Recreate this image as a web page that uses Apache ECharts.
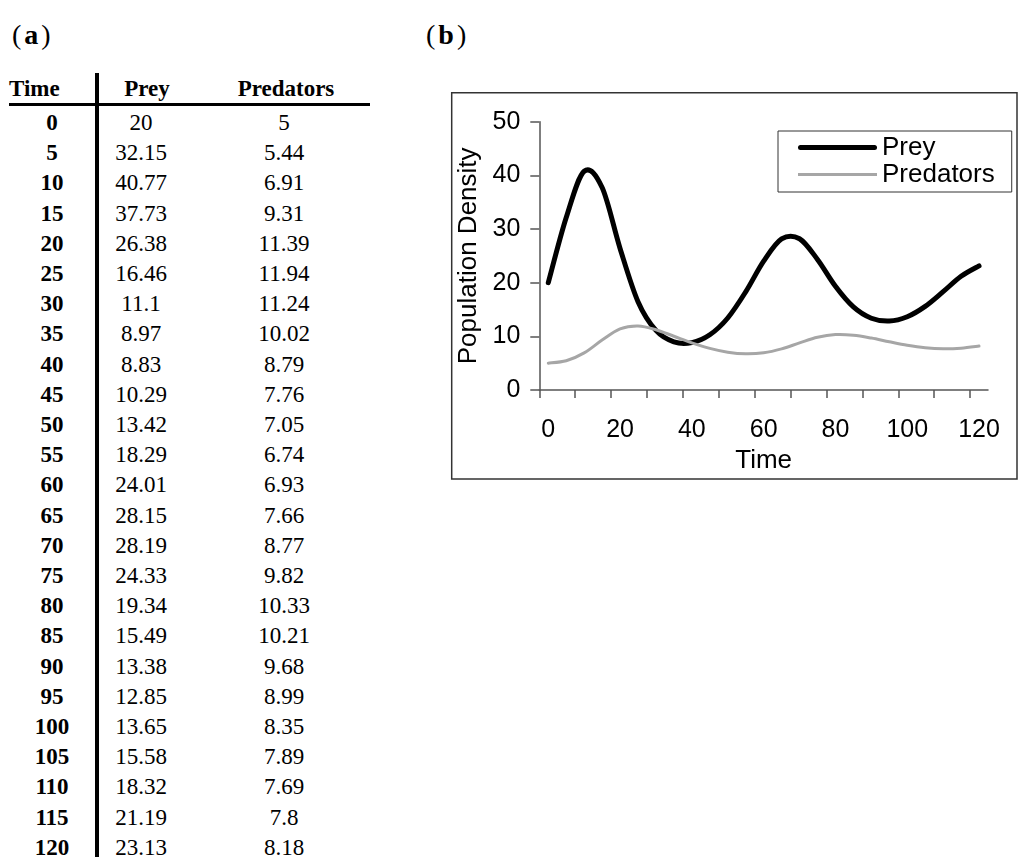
<!DOCTYPE html>
<html>
<head>
<meta charset="utf-8">
<script src="https://cdn.jsdelivr.net/npm/echarts@6/dist/echarts.min.js"></script>
<style>
  html, body { margin: 0; padding: 0; background: #fff; }
  body { width: 1019px; height: 857px; position: relative; overflow: hidden; font-family: "Liberation Serif", "Times New Roman", serif; color: #000; }
  .lbl { position: absolute; font-size: 28px; letter-spacing: 3px; line-height: 1; }
  .lbl b { font-weight: bold; }
  .cell { position: absolute; font-size: 23px; line-height: 30px; height: 30px; white-space: nowrap; transform: translate(-50%, -50%); }
  .hdr { font-weight: bold; }
  .bold { font-weight: bold; }
  #hline { position: absolute; left: 9px; top: 102.5px; width: 361px; height: 3px; background: #000; }
  #vline { position: absolute; left: 94.7px; top: 72.7px; width: 4px; height: 800px; background: #000; }
  #chart { position: absolute; left: 440px; top: 80px; width: 579px; height: 420px; }
</style>
</head>
<body>
<div class="lbl" style="left:12px; top:21px;">(<b>a</b>)</div>
<div class="lbl" style="left:426px; top:21px;">(<b>b</b>)</div>
<div id="hline"></div>
<div id="vline"></div>
<div id="table"></div>
<div id="chart"></div>
<script>
// ---- data ----
var times = [0, 5, 10, 15, 20, 25, 30, 35, 40, 45, 50, 55, 60, 65, 70, 75, 80, 85, 90, 95, 100, 105, 110, 115, 120];
var prey = [20, 32.15, 40.77, 37.73, 26.38, 16.46, 11.1, 8.97, 8.83, 10.29, 13.42, 18.29, 24.01, 28.15, 28.19, 24.33, 19.34, 15.49, 13.38, 12.85, 13.65, 15.58, 18.32, 21.19, 23.13];
var predators = [5, 5.44, 6.91, 9.31, 11.39, 11.94, 11.24, 10.02, 8.79, 7.76, 7.05, 6.74, 6.93, 7.66, 8.77, 9.82, 10.33, 10.21, 9.68, 8.99, 8.35, 7.89, 7.69, 7.8, 8.18];
var headers = ["Time", "Prey", "Predators"];
var seriesNames = ["Prey", "Predators"];
// x axis: time points sit in the middle of 5-unit bands (Excel category style)
var xRange = { min: -2.5, max: 122.5 };
var xLabelValues = [0, 20, 40, 60, 80, 100, 120];
var xTickValues = [-2.5, 7.5, 17.5, 27.5, 37.5, 47.5, 57.5, 67.5, 77.5, 87.5, 97.5, 107.5, 117.5];
var yTicks = { min: 0, max: 50, interval: 10 };

// ---- table (a) ----
(function () {
  var t = document.getElementById('table');
  function add(text, x, y, cls, left) {
    var d = document.createElement('div');
    d.className = 'cell ' + (cls || '');
    d.textContent = text;
    d.style.left = x + 'px';
    d.style.top = y + 'px';
    if (left) { d.style.transform = 'translate(0, -50%)'; }
    t.appendChild(d);
  }
  add(headers[0], 9, 89, 'hdr', true);
  add(headers[1], 147, 89, 'hdr');
  add(headers[2], 286, 89, 'hdr');
  for (var i = 0; i < times.length; i++) {
    var y = 123 + i * 30.2;
    add(String(times[i]), 52, y, 'bold');
    add(String(prey[i]), 141, y);
    add(String(predators[i]), 284, y);
  }
})();

// ---- chart (b) ----
var chart = echarts.init(document.getElementById('chart'), null, { renderer: 'canvas' });
var font = '"Liberation Sans", Arial, sans-serif';
var axisColor = '#555';
var preyColor = '#000';
var predColor = '#a6a6a6';

// Excel-style smoothed line: cubic Bezier through every data point (Catmull-Rom control points),
// positioned through the chart's own axes via api.coord.
function smoothLine(values, color, width) {
  return function (params, api) {
    if (params.dataIndex !== 0) { return null; }
    var pts = values.map(function (v, k) { return api.coord([times[k], v]); });
    var n = pts.length;
    var d = 'M' + pts[0][0] + ',' + pts[0][1];
    for (var i = 0; i < n - 1; i++) {
      var p0 = pts[Math.max(i - 1, 0)], p1 = pts[i], p2 = pts[i + 1], p3 = pts[Math.min(i + 2, n - 1)];
      var c1x = p1[0] + (p2[0] - p0[0]) / 6, c1y = p1[1] + (p2[1] - p0[1]) / 6;
      var c2x = p2[0] - (p3[0] - p1[0]) / 6, c2y = p2[1] - (p3[1] - p1[1]) / 6;
      d += ' C' + c1x + ',' + c1y + ' ' + c2x + ',' + c2y + ' ' + p2[0] + ',' + p2[1];
    }
    return {
      type: 'path',
      shape: { pathData: d },
      style: { fill: 'none', stroke: color, lineWidth: width, lineCap: 'round', lineJoin: 'round' }
    };
  };
}

chart.setOption({
  animation: false,
  backgroundColor: '#fff',
  textStyle: { fontFamily: font, color: '#000' },
  graphic: [{
    type: 'rect',
    shape: { x: 11.7, y: 12.7, width: 565.3, height: 386.3 },
    style: { fill: 'none', stroke: '#333', lineWidth: 1.5 },
    z: -1
  }],
  grid: { left: 99.3, top: 41.7, width: 448.7, height: 268.3, containLabel: false },
  legend: {
    orient: 'vertical',
    left: 338,
    top: 51,
    padding: [3, 17, 4, 20],
    itemGap: 0,
    itemWidth: 79,
    itemHeight: 14,
    borderColor: '#333',
    borderWidth: 1,
    backgroundColor: '#fff',
    textStyle: { fontFamily: font, fontSize: 26, lineHeight: 27, color: '#000' },
    data: [
      { name: seriesNames[0], icon: 'path://M2.5,0 h74 a2.5,2.5 0 0 1 0,5 h-74 a2.5,2.5 0 0 1 0,-5 z', itemStyle: { color: preyColor } },
      { name: seriesNames[1], icon: 'path://M0,0 h79 v3 h-79 z', itemStyle: { color: predColor } }
    ]
  },
  xAxis: {
    type: 'value',
    min: xRange.min,
    max: xRange.max,
    name: 'Time',
    nameLocation: 'middle',
    nameGap: 50,
    nameTextStyle: { fontFamily: font, fontSize: 26, color: '#000' },
    axisLine: { show: true, onZero: false, lineStyle: { color: axisColor, width: 1.5 } },
    axisTick: { show: true, customValues: xTickValues, length: 8, lineStyle: { color: axisColor, width: 1.5 } },
    axisLabel: { customValues: xLabelValues, margin: 28, fontFamily: font, fontSize: 25, color: '#000' },
    splitLine: { show: false }
  },
  yAxis: {
    type: 'value',
    min: yTicks.min,
    max: yTicks.max,
    interval: yTicks.interval,
    name: 'Population Density',
    nameLocation: 'middle',
    nameGap: 54,
    nameRotate: 90,
    nameTextStyle: { fontFamily: font, fontSize: 26, color: '#000' },
    axisLine: { show: true, onZero: false, lineStyle: { color: axisColor, width: 1.5 } },
    axisTick: { show: true, length: 9, lineStyle: { color: axisColor, width: 1.5 } },
    axisLabel: { margin: 19, fontFamily: font, fontSize: 25, color: '#000' },
    splitLine: { show: false }
  },
  series: [{
    name: seriesNames[0],
    type: 'custom',
    data: prey.map(function (v, k) { return [times[k], v]; }),
    encode: { x: 0, y: 1 },
    renderItem: smoothLine(prey, preyColor, 5),
    itemStyle: { color: preyColor },
    clip: false,
    z: 3
  }, {
    name: seriesNames[1],
    type: 'custom',
    data: predators.map(function (v, k) { return [times[k], v]; }),
    encode: { x: 0, y: 1 },
    renderItem: smoothLine(predators, predColor, 3),
    itemStyle: { color: predColor },
    clip: false,
    z: 4
  }]
});
</script>
</body>
</html>
